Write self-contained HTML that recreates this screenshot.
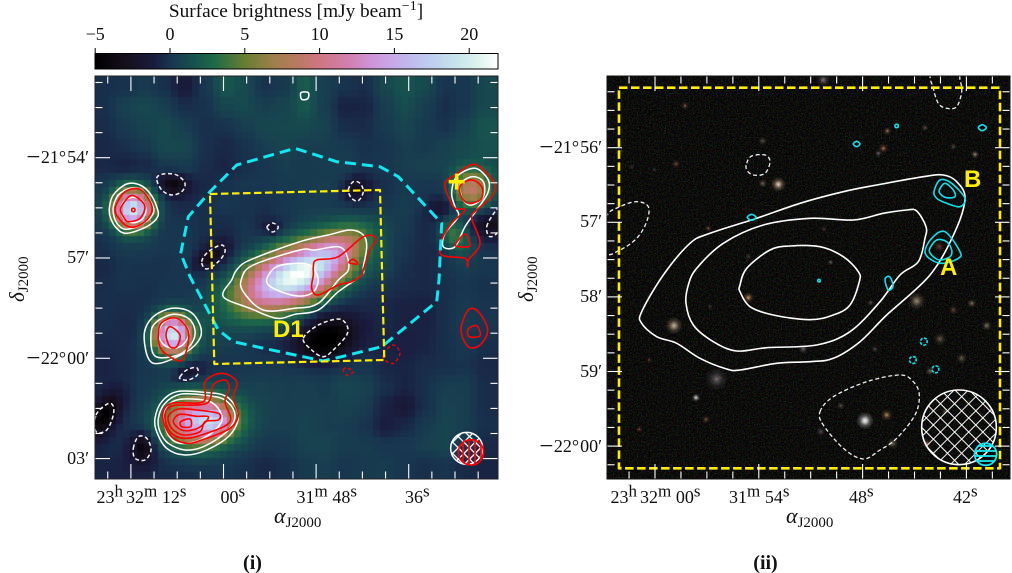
<!DOCTYPE html>
<html lang="en">
<head>
<meta charset="utf-8">
<title>Surface brightness map and optical image</title>
<style>
html,body{margin:0;padding:0;background:#fff;width:1012px;height:573px;overflow:hidden}
#stage{position:relative;width:1012px;height:573px}
#heat{position:absolute;left:95px;top:76px;width:403px;height:403px}
#ov{position:absolute;left:0;top:0}
text{font-family:"Liberation Serif",serif;fill:#111}
.sans{font-family:"Liberation Sans",sans-serif;font-weight:bold;fill:#ffee00}
</style>
</head>
<body>
<div id="stage">
<canvas id="heat" width="403" height="403"></canvas>
<svg id="ov" width="1012" height="573" viewBox="0 0 1012 573" xmlns="http://www.w3.org/2000/svg">
<defs>
<linearGradient id="cbGrad" x1="0" x2="1" y1="0" y2="0"></linearGradient>
<filter id="noise" x="0" y="0" width="100%" height="100%" color-interpolation-filters="sRGB">
<feTurbulence type="fractalNoise" baseFrequency="0.75" numOctaves="2" seed="7"/>
<feColorMatrix type="matrix" values="0.62 0 0 0 -0.275  0 0.62 0 0 -0.275  0 0 0.62 0 -0.285  0 0 0 0 1"/>
</filter>
<pattern id="crossWhiteL" width="8" height="8" patternUnits="userSpaceOnUse" patternTransform="rotate(45)"><path d="M0 0H8M0 0V8" stroke="#fff" stroke-width="2.6"/></pattern>
<pattern id="vertRed" width="6" height="6" patternUnits="userSpaceOnUse"><path d="M1 0V6" stroke="#f00" stroke-width="1.7"/></pattern>
<pattern id="crossWhiteR" width="10" height="10" patternUnits="userSpaceOnUse" patternTransform="rotate(45)"><path d="M0 0H10M0 0V10" stroke="#fff" stroke-width="1.9"/></pattern>
<pattern id="horizCyan" width="5" height="5" patternUnits="userSpaceOnUse"><path d="M0 1H5" stroke="#18e8f0" stroke-width="1.8"/></pattern>
<clipPath id="clipL"><rect x="95" y="76" width="403" height="403"/></clipPath>
<clipPath id="clipR"><rect x="607" y="76" width="403" height="403"/></clipPath>
</defs>

<rect x="607" y="76" width="403" height="403" fill="#0a0a08" filter="url(#noise)"/>
<g id="stars" clip-path="url(#clipR)"></g>
<g id="marksL" clip-path="url(#clipL)"></g>
<g id="marksR" clip-path="url(#clipR)"></g>
<g id="ticks"></g>

<rect x="95" y="76" width="403" height="403" fill="none" stroke="#222" stroke-width="1"/>
<rect x="607" y="76" width="403" height="403" fill="none" stroke="#111" stroke-width="1"/>

<rect x="95" y="53.5" width="403" height="15.5" fill="url(#cbGrad)" stroke="#000" stroke-width="1"/>
<g id="cbTicks"></g>
<text x="296" y="17" text-anchor="middle" font-size="19.3">Surface brightness [mJy beam<tspan dy="-7" font-size="14">−1</tspan><tspan dy="7">]</tspan></text>

<g font-size="18">
<text x="96.5" y="503">23<tspan dy="-6.5" font-size="17">h</tspan><tspan dy="6.5" dx="3">32</tspan><tspan dy="-6.5" font-size="17">m</tspan><tspan dy="6.5" dx="4.6">12</tspan><tspan dy="-6.5" font-size="17">s</tspan></text>
<text x="220.5" y="503">00<tspan dy="-6.5" font-size="17">s</tspan></text>
<text x="296.5" y="503">31<tspan dy="-6.5" font-size="17">m</tspan><tspan dy="6.5" dx="4.6">48</tspan><tspan dy="-6.5" font-size="17">s</tspan></text>
<text x="405" y="503">36<tspan dy="-6.5" font-size="17">s</tspan></text>
</g>
<g font-size="18">
<text x="610.5" y="503">23<tspan dy="-6.5" font-size="17">h</tspan><tspan dy="6.5" dx="3">32</tspan><tspan dy="-6.5" font-size="17">m</tspan><tspan dy="6.5" dx="4.6">00</tspan><tspan dy="-6.5" font-size="17">s</tspan></text>
<text x="729" y="503">31<tspan dy="-6.5" font-size="17">m</tspan><tspan dy="6.5" dx="4.6">54</tspan><tspan dy="-6.5" font-size="17">s</tspan></text>
<text x="849" y="503">48<tspan dy="-6.5" font-size="17">s</tspan></text>
<text x="953" y="503">42<tspan dy="-6.5" font-size="17">s</tspan></text>
</g>
<g font-size="18" text-anchor="end">
<text x="89" y="163"><tspan font-size="25" dy="1.8">−</tspan><tspan dy="-1.8" dx="0.5">21°</tspan><tspan dx="1">54′</tspan></text>
<text x="89" y="263">57′</text>
<text x="89" y="364"><tspan font-size="25" dy="1.8">−</tspan><tspan dy="-1.8" dx="0.5">22°</tspan><tspan dx="1">00′</tspan></text>
<text x="89" y="464">03′</text>
</g>
<g font-size="18" text-anchor="end">
<text x="602" y="153"><tspan font-size="25" dy="1.8">−</tspan><tspan dy="-1.8" dx="0.5">21°</tspan><tspan dx="1">56′</tspan></text>
<text x="602" y="227">57′</text>
<text x="602" y="302">58′</text>
<text x="602" y="377">59′</text>
<text x="602" y="452"><tspan font-size="25" dy="1.8">−</tspan><tspan dy="-1.8" dx="0.5">22°</tspan><tspan dx="1">00′</tspan></text>
</g>
<g>
<text x="274" y="523" font-size="22" font-style="italic">α<tspan dy="4" font-size="15" font-style="normal">J2000</tspan></text>
<text x="786" y="523" font-size="22" font-style="italic">α<tspan dy="4" font-size="15" font-style="normal">J2000</tspan></text>
<text transform="translate(24,302) rotate(-90)" font-size="21" font-style="italic">δ<tspan dy="4" font-size="15" font-style="normal">J2000</tspan></text>
<text transform="translate(533,302) rotate(-90)" font-size="21" font-style="italic">δ<tspan dy="4" font-size="15" font-style="normal">J2000</tspan></text>
</g>
<text x="252.5" y="569" text-anchor="middle" font-size="20" font-weight="bold">(i)</text>
<text x="765.5" y="569" text-anchor="middle" font-size="20" font-weight="bold">(ii)</text>

<text class="sans" x="273" y="337" font-size="24">D1</text>
<text class="sans" x="940" y="275" font-size="24">A</text>
<text class="sans" x="964" y="187" font-size="24">B</text>
</svg>
</div>
<script>
// Colour scale: value in mJy/beam and matching colour
const cmapValues = [-5,-3,-1,0,1.5,3,5,7,8.5,10,12,13.5,15,17,19,20.5,21.9];
const cmapColors = ['#000000','#150f1c','#1a1c3e','#18344f','#17504f','#1e6a48','#667f32','#a07f4c','#b97a60','#cf7583','#d280b0','#cf95d8','#c7aaea','#bdc8f0','#c5e3ec','#dcf3ee','#ffffff'];
const colorbarTicks = [-5,0,5,10,15,20];

// Coarse background of the map (mJy/beam), rows top to bottom
const backgroundGrid = [
[0.3,0.4,0.8,0.3,-0.8,0.6,2.4,1.6,0.4,0.8,2.6,1,0.5,0.2,1.5,2.2,1.6,0.5,0.6,1.5],
[0.3,1.2,1.6,1,0.2,0.4,1.4,1.6,1,1.4,2.4,1,-0.3,-0.2,1,1.8,1,0.2,0.6,1.6],
[0.2,0.8,1.3,1.6,1,0.3,0.4,1,1.5,1.5,1.6,1.2,0.2,0.1,0.8,1.4,0.8,0.4,1.2,2.2],
[0,0.3,0.8,1.6,1.5,0.4,0,0.4,1,1.4,1,1,0.8,0.4,0.5,1,0.8,1.2,1.6,2],
[0,-0.3,0,0.8,1,0.2,-0.2,0.3,0.6,1,0.8,0.9,1,0.5,0.6,1,1.2,1.2,1.4,1.6],
[0.6,1,0.8,0.2,-0.3,0,0.4,0.6,0.6,0.8,0.8,1,0.8,-0.3,0.3,0.8,0.6,0.4,1,1.2],
[0.8,1.4,1.2,0.3,0.1,0.3,0.6,0.4,0.3,0.6,0.8,0.8,0.7,0.3,0.5,0.9,0.5,-0.2,0.4,0.8],
[0.6,1.2,1,0.5,0.6,0.3,0.1,0.5,-0.2,0.2,0.8,1,1,0.8,0.6,0.6,0,-0.8,0,-0.3],
[0.3,0.8,0.8,0.6,0.8,0,-0.6,0.3,0.5,0.8,1,1.2,1.2,1,0.8,0.4,0,0,0.6,0.5],
[0,0.5,0.4,0.4,0.6,0,-0.4,0.5,0.8,0.8,0.8,0.8,0.8,0.7,0.8,0.2,0,0.4,0.8,0.6],
[0.2,0.4,0.3,0.5,0.5,0.2,0.2,0.2,0.2,0.2,0.3,0.3,0.2,0.2,0.3,0.1,0,0.3,0.6,0.4],
[0.3,0.2,0.2,0.3,0.3,0.3,0.1,0.3,0.1,0,-0.2,-0.3,-0.2,0,0,-0.3,-0.3,0.3,0.8,0.5],
[0.2,0,0,0.4,0.8,0.9,0.6,0.3,0.1,0.2,0,-0.5,-0.6,-0.2,0,-0.3,-0.3,0.3,0.9,0.6],
[0,0.1,0.4,0.6,1,1,0.8,0.5,0.1,0.1,-0.1,-0.4,-0.3,0,-0.2,-0.4,-0.2,0.3,0.7,0.3],
[-0.2,0.1,0.6,0.7,0.5,0.2,0.4,0.6,0.7,0.8,0.9,0.7,0.7,0.6,-0.1,-0.2,0.2,0.3,0.4,0],
[0,0.3,0.7,0.9,0.7,0.4,0.4,0.9,1.1,1,1.1,0.9,1.4,1.2,0.3,-0.2,0.3,1,1,0.2],
[0,0.3,0.6,0.9,0.8,0.5,0.5,1,1.1,1,1.1,1,1.2,1,-0.3,-0.9,0.3,1.2,1,0.2],
[0,0.3,0.6,0.8,0.6,0.5,0.6,1.1,1,1,1.3,1,1,0.5,-0.5,0,0.8,1.4,1,0.3],
[0,0.1,0.4,0.6,0.4,0.5,0.6,0.8,0.6,0.7,1.2,1.3,0.9,0.9,0.6,0.7,1.1,1.4,0.6,0],
[-0.2,-0.3,-0.2,0.1,0.2,0.4,0.5,0.3,0,0.3,0.8,1,0.6,0.8,0.9,0.5,0.3,0.5,0.1,-0.2]
];
const backgroundOffset = -0.5;

// Map blobs: [mapX, mapY, peak mJy/beam, sigma long, sigma short, angle deg] (map unit = 0.6 arcsec)
const mapBlobs = [
[112,400,19,38,38,0],[232,775,20,38,38,0],[315,1035,16.5,68,50,-5],[365,1035,5,30,28,0],
[591,606,21,114,57,-22],[720,522,6,75,36,-30],[1130,340,8.5,38,38,0],[1075,470,4.5,44,28,60],
[232,326,-3.5,30,22,10],[345,543,-3.2,32,18,-30],[533,456,-2,14,14,0],[780,342,-2.8,25,25,0],
[690,792,-5,60,42,-20],[279,891,-2.5,28,16,-20],[30,1017,-4.5,50,25,-60],[141,1116,-4,30,24,90],
[1185,447,-2.5,30,30,0],[1035,402,-2,30,25,0]
];

// Left panel contours, map units
const leftWhiteContours = [
[[43,397],[55,357],[95,324],[135,327],[165,352],[185,392],[188,422],[155,452],[95,472],[65,457],[47,427]],
[[55,392],[70,357],[105,337],[140,342],[170,382],[175,412],[145,442],[95,460],[70,447],[57,422]],
[[77,402],[88,375],[115,364],[142,375],[153,402],[142,429],[115,440],[88,429]],
[[410,612],[425,582],[465,552],[615,497],[700,477],[765,462],[805,477],[815,512],[805,572],[800,597],[730,647],[670,702],[600,715],[545,727],[465,697],[385,662]],
[[440,607],[475,567],[615,522],[660,522],[730,512],[755,537],[760,582],[730,612],[670,682],[600,697],[505,702],[445,647]],
[[515,612],[545,572],[615,562],[650,572],[670,612],[650,652],[600,659],[535,637]],
[[1085,302],[1140,277],[1180,312],[1178,352],[1145,402],[1110,452],[1080,512],[1045,512],[1050,472],[1090,422],[1080,392],[1070,352]],
[[1095,327],[1130,302],[1165,317],[1165,362],[1130,387],[1105,372]],
[[618,50],[640,50],[638,68],[620,70]],
[[148,772],[175,722],[230,697],[285,707],[315,747],[315,787],[275,827],[195,862],[160,847]],
[[168,772],[185,737],[235,715],[280,727],[300,762],[290,802],[250,837],[180,840]],
[[190,772],[205,740],[235,727],[265,740],[282,772],[265,805],[235,817],[205,805]],
[[180,1027],[200,977],[245,947],[325,949],[395,962],[430,1017],[405,1077],[335,1122],[270,1137],[215,1117],[185,1067]],
[[190,1027],[210,982],[255,955],[325,957],[390,972],[420,1017],[395,1067],[325,1112],[270,1122],[220,1102],[195,1067]],
[[205,1017],[225,982],[265,969],[345,977],[380,1017],[370,1052],[315,1092],[255,1102],[220,1077]]
];
const leftRedContours = [
[[60,402],[80,357],[105,340],[135,340],[160,367],[172,402],[150,437],[110,454],[80,437]],
[[77,397],[105,360],[130,367],[150,392],[135,427],[100,437],[85,422]],
[[111,398],[119,398],[119,406],[111,406]],
[[655,572],[665,552],[730,542],[805,482],[843,487],[825,522],[805,582],[800,597],[770,617],[730,627],[670,657],[650,637],[655,597]],
[[762,560],[775,550],[788,564]],
[[1050,322],[1080,297],[1135,265],[1175,292],[1200,327],[1190,362],[1145,402],[1130,427],[1155,502],[1120,552],[1118,572],[1110,547],[1040,537],[1040,492],[1070,442],[1110,402],[1080,397],[1060,362]],
[[1097,327],[1130,312],[1160,332],[1160,367],[1130,382],[1110,377],[1095,352]],
[[1082,504],[1110,474],[1125,502],[1120,512],[1090,512]],
[[190,787],[195,747],[225,727],[255,732],[280,767],[275,822],[255,855],[210,832],[195,812]],
[[213,777],[225,752],[255,777],[245,812],[225,812]],
[[203,1017],[230,982],[325,977],[330,917],[380,892],[425,917],[415,967],[430,1017],[405,1057],[335,1087],[275,1102],[225,1077]],
[[210,1017],[235,989],[335,982],[355,927],[390,912],[403,937],[390,977],[405,1037],[335,1072],[270,1087],[225,1067]],
[[220,1022],[250,999],[305,1002],[370,1012],[370,1032],[330,1037],[315,1067],[265,1077],[230,1057]],
[[235,1037],[255,1015],[305,1021],[340,1022],[325,1045],[300,1060],[260,1062]],
[[257,1037],[285,1029],[287,1052],[260,1052]],
[[1098,762],[1120,702],[1150,707],[1178,762],[1155,807],[1120,812]],
[[1120,759],[1145,749],[1155,779],[1122,782]]
];
const leftNegativeContours = [
[[185,307],[205,294],[245,297],[270,322],[260,347],[230,357],[200,342]],
[[516,454],[533,441],[550,454],[533,468]],
[[320,557],[340,527],[380,507],[390,527],[370,557],[335,579]],
[[1175,452],[1200,407],[1212,402],[1212,462],[1185,482]],
[[3,1017],[35,985],[53,987],[55,1017],[35,1062],[3,1067]],
[[115,1117],[130,1082],[155,1087],[168,1122],[150,1152],[120,1147]],
[[255,902],[275,882],[305,875],[307,897],[280,912],[257,909]],
[[625,787],[670,747],[730,729],[755,747],[755,777],[715,822],[685,842],[650,822]],
[[760,342],[775,317],[795,322],[805,347],[790,374],[770,367]]
];
const leftRedDashedContours = [
[[865,832],[895,807],[915,832],[895,862],[870,852]],
[[745,882],[755,875],[775,887],[755,897]]
];
const leftCyanRegion = [[257,532],[280,422],[345,347],[425,267],[600,217],[725,257],[855,272],[910,302],[1040,442],[1032,612],[1025,677],[860,812],[740,842],[685,855],[600,837],[415,797],[370,762],[285,602]];
const leftYellowRegion = [[345,354],[855,342],[868,852],[358,864]];
const leftCross = [1085,317];
const leftBeamRadio = [1115,1117,48];
const leftBeamRed = [1128,1129,38];

// Right panel contours, map units
const rightWhiteContours = [
[[169,597],[104,707],[104,742],[149,782],[209,802],[279,847],[359,879],[399,882],[509,862],[609,857],[679,847],[759,797],[839,717],[969,597],[1044,467],[1074,367],[1049,317],[1009,297],[949,302],[809,327],[709,347],[579,382],[449,427],[309,472],[249,502]],
[[244,627],[269,577],[349,502],[469,447],[609,427],[739,432],[829,412],[899,402],[929,405],[957,452],[954,487],[934,557],[879,597],[819,677],[729,767],[629,807],[479,815],[389,825],[319,797],[259,747],[237,682]],
[[399,627],[419,577],[489,522],[549,510],[639,512],[709,542],[754,587],[757,617],[729,687],[679,717],[609,731],[499,717],[429,692],[399,647]]
];
const rightNegativeContours = [
[[-2,424],[39,392],[89,377],[124,392],[119,437],[89,487],[39,522],[-2,529]],
[[419,262],[434,240],[474,237],[489,257],[474,292],[439,297],[419,282]],
[[974,-4],[979,37],[994,82],[1019,97],[1049,92],[1064,47],[1059,12],[1049,-4]],
[[639,1007],[679,962],[779,917],[879,897],[919,917],[937,957],[924,1017],[869,1087],[819,1122],[769,1149],[709,1117],[649,1047]]
];
const rightCyanContours = [
[[981,347],[999,312],[1034,322],[1074,367],[1059,392],[1019,382],[989,367]],
[[997,342],[1014,322],[1039,342],[1044,362],[1019,365],[1001,355]],
[[954,527],[974,487],[1014,467],[1059,527],[1054,547],[1009,562],[974,552]],
[[967,522],[989,492],[1019,497],[1034,522],[1029,542],[999,552],[979,542]],
[[421,424],[434,415],[447,424],[434,433]],
[[739,204],[749,196],[759,204],[749,212]],
[[1114,155],[1126,146],[1138,155],[1126,164]],
[[834,610],[848,602],[858,630],[844,642]],
[[865,146],[873,146],[873,154],[865,154]],
[[633,611],[639,611],[639,617],[633,617]]
];
const rightCyanDashedContours = [
[[959,790],[947,787],[940,797],[947,807],[959,804]],
[[926,845],[914,842],[907,852],[914,862],[926,859]],
[[994,873],[982,870],[975,880],[982,890],[994,887]]
];
const rightYellowRegion = [[36,35],[1179,35],[1179,1177],[36,1177]];
const rightBeamRadio = [1056,1054,112];
const rightBeamCyan = [1136,1135,33];

// Optical sources: [mapX, mapY, size, brightness, tint index]
const tintPalette = ['#ffffff','#e8c9a4','#c46a4a','#d99a5a','#b8a8b8'];
const opticalSources = [
[234,89,9,.45,2],[514,325,18,.9,1],[467,322,9,.4,1],[467,195,9,.3,1],[207,264,10,.4,2],[304,457,6,.5,2],[41,225,5,.2,4],[74,272,5,.2,4],[142,282,5,.2,4],[424,542,7,.2,1],
[829,217,11,.65,2],[814,232,7,.45,4],[841,165,8,.55,3],[954,155,6,.35,1],[1104,235,8,.55,1],[1039,212,6,.3,1],[649,12,16,.5,4],[997,512,14,.35,2],[671,559,5,.45,4],[651,459,6,.2,1],
[201,749,22,.75,1],[424,665,13,.7,3],[329,909,30,.45,4],[267,965,8,.8,0],[297,1030,9,.45,2],[97,1060,6,.4,2],[127,852,5,.4,2],[309,692,5,.2,1],[589,819,11,.45,4],
[774,1034,22,.95,0],[839,1017,13,.65,3],[929,675,22,.55,1],[1139,749,11,.45,1],[1094,682,9,.45,1],[999,789,15,.35,1],[1064,847,12,.35,1],[969,885,10,.4,1],[857,1102,13,.4,1],[701,989,8,.3,1],[641,1067,11,.3,4],[959,1102,12,.55,2],[1014,1007,8,.3,1],[791,680,6,.35,1],[804,819,7,.3,4],[1039,702,10,.35,3]
];

// Tick values in sky coordinates
const leftRaMajor = [-12,0,12,24];
const leftDecMajor = [0,3,6,9];
const rightRaMajor = [0,6,12,18];
const rightDecMajor = [0,1,2,3,4];

// Axis functions
const xL = m => 95 + m / 3;
const yL = m => 76 + m / 3;
const xR = m => 607 + m / 3;
const yR = m => 76 + m / 3;
const raL = t => 223.5 + 7.717 * t;
const decL = d => 157.7 + 33.43 * d;
const raR = t => 655 + 17.3 * t;
const decR = d => 147.7 + 74.6 * d;
const cbX = v => 170 + 14.96 * v;

const NS = 'http://www.w3.org/2000/svg';
function hex(c){return [parseInt(c.slice(1,3),16),parseInt(c.slice(3,5),16),parseInt(c.slice(5,7),16)];}
const cmapRgb = cmapColors.map(hex);
function colorOf(v){
  if(v<=cmapValues[0]) return cmapRgb[0];
  for(let i=1;i<cmapValues.length;i++){
    if(v<=cmapValues[i]){
      const f=(v-cmapValues[i-1])/(cmapValues[i]-cmapValues[i-1]);
      const a=cmapRgb[i-1],b=cmapRgb[i];
      return [a[0]+(b[0]-a[0])*f,a[1]+(b[1]-a[1])*f,a[2]+(b[2]-a[2])*f];
    }
  }
  return cmapRgb[cmapRgb.length-1];
}
function smoothstep(f){return f*f*(3-2*f);}
function bgAt(px,py){
  const n=backgroundGrid.length;
  const gx=Math.min(n-1.001,Math.max(0,(px-10)/20));
  const gy=Math.min(n-1.001,Math.max(0,(py-10)/20));
  const i=Math.floor(gx),j=Math.floor(gy);
  const fx=smoothstep(gx-i),fy=smoothstep(gy-j);
  const g=backgroundGrid;
  return (g[j][i]*(1-fx)+g[j][i+1]*fx)*(1-fy)+(g[j+1][i]*(1-fx)+g[j+1][i+1]*fx)*fy+backgroundOffset;
}
function valueAt(mx,my){
  let v=bgAt(mx/3,my/3);
  for(const b of mapBlobs){
    const a=b[5]*Math.PI/180,dx=mx-b[0],dy=my-b[1];
    const u=dx*Math.cos(a)+dy*Math.sin(a),w=-dx*Math.sin(a)+dy*Math.cos(a);
    v+=b[2]*Math.exp(-(u*u)/(2*b[3]*b[3])-(w*w)/(2*b[4]*b[4]));
  }
  return v;
}
(function drawHeat(){
  const ctx=document.getElementById('heat').getContext('2d');
  const cell=6.95,cells=58;
  for(let j=0;j<cells;j++){
    const y0=Math.round(j*cell),y1=Math.round((j+1)*cell);
    for(let i=0;i<cells;i++){
      const x0=Math.round(i*cell),x1=Math.round((i+1)*cell);
      const c=colorOf(valueAt((i+.5)*cell*3,(j+.5)*cell*3));
      ctx.fillStyle='rgb('+Math.round(c[0])+','+Math.round(c[1])+','+Math.round(c[2])+')';
      ctx.fillRect(x0,y0,x1-x0,y1-y0);
    }
  }
})();

// Colorbar
(function(){
  const g=document.getElementById('cbGrad');
  const lo=cmapValues[0],hi=cmapValues[cmapValues.length-1];
  cmapValues.forEach((v,i)=>{
    const s=document.createElementNS(NS,'stop');
    s.setAttribute('offset',(v-lo)/(hi-lo));
    s.setAttribute('stop-color',cmapColors[i]);
    g.appendChild(s);
  });
  const host=document.getElementById('cbTicks');
  colorbarTicks.forEach(v=>{
    const l=document.createElementNS(NS,'line');
    l.setAttribute('x1',cbX(v));l.setAttribute('x2',cbX(v));l.setAttribute('y1',48);l.setAttribute('y2',53);
    l.setAttribute('stroke','#000');l.setAttribute('stroke-width',1);
    
    
    host.appendChild(l);
    const t=document.createElementNS(NS,'text');
    t.setAttribute('x',cbX(v));t.setAttribute('y',40);t.setAttribute('text-anchor','middle');t.setAttribute('font-size',18);
    t.textContent=(v<0?'−':'')+Math.abs(v);
    
    
    host.appendChild(t);
  });
})();

function pathOf(pts,sx,sy,smooth){
  const P=pts.map(p=>[sx(p[0]),sy(p[1])]);
  const n=P.length;
  if(!smooth) return 'M'+P.map(p=>p[0].toFixed(1)+' '+p[1].toFixed(1)).join('L')+'Z';
  let d='M'+P[0][0].toFixed(1)+' '+P[0][1].toFixed(1);
  for(let i=0;i<n;i++){
    const p0=P[(i-1+n)%n],p1=P[i],p2=P[(i+1)%n],p3=P[(i+2)%n];
    d+='C'+(p1[0]+(p2[0]-p0[0])/6).toFixed(1)+' '+(p1[1]+(p2[1]-p0[1])/6).toFixed(1)+' '+(p2[0]-(p3[0]-p1[0])/6).toFixed(1)+' '+(p2[1]-(p3[1]-p1[1])/6).toFixed(1)+' '+p2[0].toFixed(1)+' '+p2[1].toFixed(1);
  }
  return d+'Z';
}
function drawContours(host,list,sx,sy,smooth,name,stroke,width,dash){
  list.forEach(pts=>{
    const el=document.createElementNS(NS,'path');
    el.setAttribute('d',pathOf(pts,sx,sy,smooth));
    el.setAttribute('fill','none');
    el.setAttribute('stroke',stroke);
    el.setAttribute('stroke-width',width);
    el.setAttribute('stroke-linejoin','round');
    if(dash) el.setAttribute('stroke-dasharray',dash);
    
    
    host.appendChild(el);
  });
}
function drawBeam(host,b,sx,sy,fill,stroke,width,name){
  const c=document.createElementNS(NS,'circle');
  c.setAttribute('cx',sx(b[0]));c.setAttribute('cy',sy(b[1]));c.setAttribute('r',b[2]/3);
  c.setAttribute('fill',fill);c.setAttribute('stroke',stroke);c.setAttribute('stroke-width',width);
  
  
  host.appendChild(c);
}
const marksL=document.getElementById('marksL');
const marksR=document.getElementById('marksR');
drawContours(marksL,leftNegativeContours,xL,yL,true,'negative-contour','#f4f4f4',1.5,'4 2.6');
drawContours(marksL,leftWhiteContours,xL,yL,true,'radio-contour','#ffffff',1.5,'');
drawContours(marksL,leftRedContours,xL,yL,true,'red-contour','#ff0000',1.6,'');
drawContours(marksL,leftRedDashedContours,xL,yL,true,'red-negative-contour','#f00000',1.4,'3.5 2.5');
drawContours(marksL,[leftCyanRegion],xL,yL,false,'cyan-footprint','#10e8f0',3,'11 6');
drawContours(marksL,[leftYellowRegion],xL,yL,false,'yellow-footprint','#ffee00',2.2,'7.5 3.5');
(function(){
  const cross=document.createElementNS(NS,'path');
  const cx=xL(leftCross[0]),cy=yL(leftCross[1]);
  cross.setAttribute('d','M'+(cx-8)+' '+cy+'H'+(cx+8)+'M'+cx+' '+(cy-8)+'V'+(cy+8));
  cross.setAttribute('stroke','#ffee00');cross.setAttribute('stroke-width',3.6);cross.setAttribute('fill','none');
  
  
  marksL.appendChild(cross);
})();
drawBeam(marksL,leftBeamRadio,xL,yL,'url(#crossWhiteL)','#ffffff',1.5,'beam-white');
drawBeam(marksL,leftBeamRed,xL,yL,'url(#vertRed)','#ff0000',1.6,'beam-red');

drawContours(marksR,rightNegativeContours,xR,yR,true,'negative-contour','#f0f0f0',1.3,'4 2.6');
drawContours(marksR,rightWhiteContours,xR,yR,true,'radio-contour','#ffffff',1.6,'');
drawContours(marksR,rightCyanContours,xR,yR,true,'cyan-contour','#10e0ea',1.6,'');
drawContours(marksR,rightCyanDashedContours,xR,yR,true,'cyan-negative-contour','#10e0ea',1.6,'3 1.5');
drawContours(marksR,[rightYellowRegion],xR,yR,false,'yellow-footprint','#ffee00',2.6,'8.5 3.5');
drawBeam(marksR,rightBeamRadio,xR,yR,'url(#crossWhiteR)','#ffffff',1.6,'beam-white');
drawBeam(marksR,rightBeamCyan,xR,yR,'url(#horizCyan)','#18e8f0',1.8,'beam-cyan');

// Optical sources with soft gradients
(function(){
  const defs=document.querySelector('defs');
  tintPalette.forEach((c,i)=>{
    const g=document.createElementNS(NS,'radialGradient');
    g.setAttribute('id','tint'+i);
    [[0,1],[.25,.75],[.55,.28],[1,0]].forEach(s=>{
      const st=document.createElementNS(NS,'stop');
      st.setAttribute('offset',s[0]);st.setAttribute('stop-color',i===0||s[0]>0?c:'#fff6ea');st.setAttribute('stop-opacity',s[1]);
      g.appendChild(st);
    });
    defs.appendChild(g);
  });
  const host=document.getElementById('stars');
  opticalSources.forEach(s=>{
    const c=document.createElementNS(NS,'circle');
    c.setAttribute('cx',xR(s[0]));c.setAttribute('cy',yR(s[1]));c.setAttribute('r',s[2]/3+1.5);
    c.setAttribute('fill','url(#tint'+s[4]+')');c.setAttribute('opacity',s[3]);
    
    
    host.appendChild(c);
  });
})();

// Ticks
function tick(host,x1,y1,x2,y2,name){
  const l=document.createElementNS(NS,'line');
  l.setAttribute('x1',x1);l.setAttribute('y1',y1);l.setAttribute('x2',x2);l.setAttribute('y2',y2);
  l.setAttribute('stroke','#fff');l.setAttribute('stroke-width',1.1);
  
  
  host.appendChild(l);
}
(function(){
  const host=document.getElementById('ticks');
  for(let t=-15;t<=33;t+=3){
    const len=leftRaMajor.includes(t)?15:7.5,x=raL(t);
    tick(host,x,76,x,76+len,'x-tick');
    tick(host,x,479,x,479-len,'x-tick');
  }
  for(let d=-2.25;d<=9;d+=.75){
    const len=leftDecMajor.includes(d)?15:7.5,y=decL(d);
    tick(host,95,y,95+len,y,'y-tick');
    tick(host,498,y,498-len,y,'y-tick');
  }
  for(let t=-1.5;t<=19.5;t+=1.5){
    const len=rightRaMajor.includes(t)?15:7.5,x=raR(t);
    tick(host,x,76,x,76+len,'x-tick');
    tick(host,x,479,x,479-len,'x-tick');
  }
  for(let d=-.75;d<=4.25;d+=.25){
    const len=rightDecMajor.includes(d)?15:7.5,y=decR(d);
    tick(host,607,y,607+len,y,'y-tick');
    tick(host,1010,y,1010-len,y,'y-tick');
  }
})();
</script>
</body>
</html>
